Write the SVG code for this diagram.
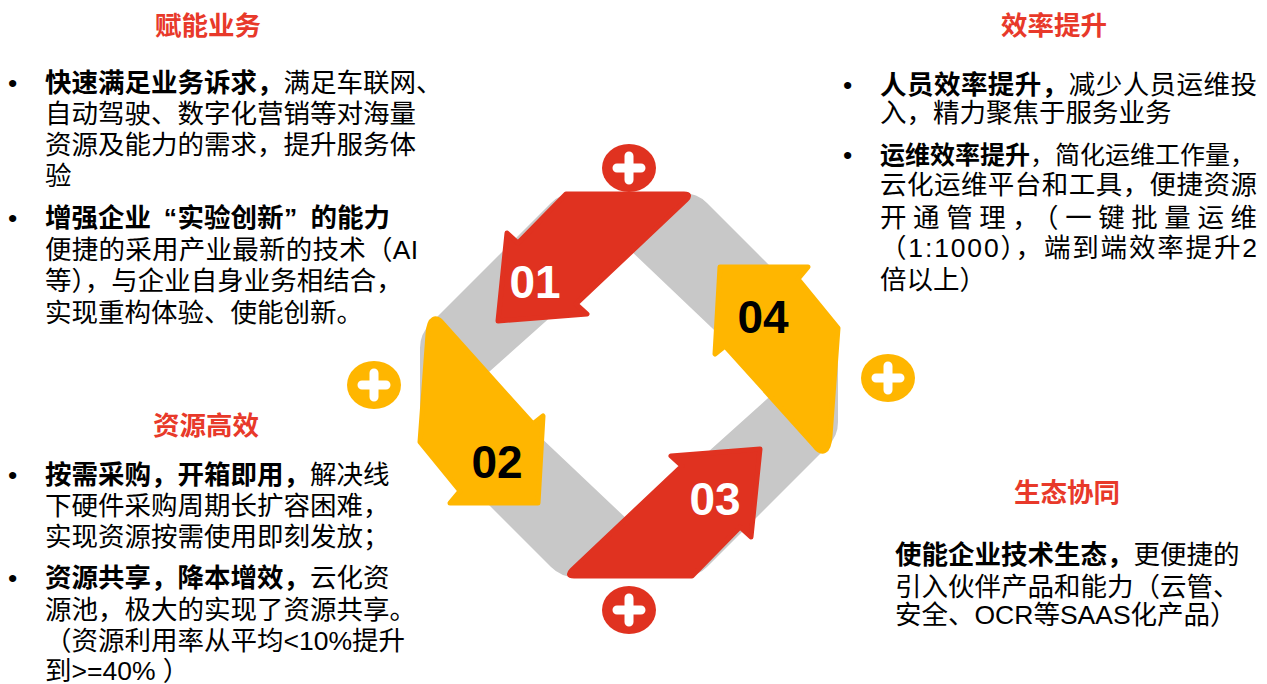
<svg xmlns="http://www.w3.org/2000/svg" width="1267" height="684" viewBox="0 0 1267 684">
<style>
text{font-family:"Liberation Sans","Noto Sans CJK SC",sans-serif;font-size:26.5px;fill:#000}
.t{fill:#E8392A;font-weight:bold;text-anchor:middle}
.b{font-weight:bold}
.num{font-size:46px;font-weight:bold;text-anchor:middle}
.w{fill:#fff}
.ar{fill:#E03220;stroke:#E03220;stroke-width:5;stroke-linejoin:round}
.ay{fill:#FFB600;stroke:#FFB600;stroke-width:5;stroke-linejoin:round}
.band{fill:#C8C8C8;fill-rule:evenodd}
.pr{fill:#E03220}
.py{fill:#FFB600}
.cross{stroke:#fff;stroke-width:9;stroke-linecap:round;fill:none}
</style>
<rect width="1267" height="684" fill="#fff"/>

<g id="ring">
<path class="band" d="M571,193 L683,193 Q697,193 707,203 L828,324 Q838,334 838,348 L838,422 Q838,436 828,446 L707,567 Q697,577 683,577 L575,577 Q561,577 551,567 L430,446 Q420,436 420,422 L420,348 Q420,334 430,324 L551,203 Q561,193 575,193 Z M628,248 L480,380 L630,522 L777,390 Z"/>
</g>

<g id="connectors">
<g id="arrow-01">
<path class="ar" d="M566,194 L684,194 Q692,194 686,200 L576,304 L587,314 L498,321 L507,233 L518,243 Z"/>
<text class="num w" x="535" y="298">01</text>
</g>
<g id="arrow-02">
<path class="ay" d="M428,334 C429,318 436,314 444,325 L533,424 L543,416 L538,503 L450,503 L460,491 L420,442 Z"/>
<text class="num" x="497" y="478">02</text>
</g>
<g id="arrow-03">
<path class="ar" d="M692,576 L574,576 Q566,576 572,570 L682,466 L671,456 L760,449 L751,537 L740,527 Z"/>
<text class="num w" x="715" y="515">03</text>
</g>
<g id="arrow-04">
<path class="ay" d="M830,436 C829,452 822,456 814,445 L725,346 L715,354 L720,267 L808,267 L798,279 L838,328 Z"/>
<text class="num" x="763" y="333">04</text>
</g>
</g>

<g id="plus-top">
<ellipse class="pr" cx="629" cy="168" rx="27" ry="24"/>
<path class="cross" d="M617,168 H641 M629,156 V180"/>
</g>
<g id="plus-bottom">
<ellipse class="pr" cx="629" cy="610" rx="27" ry="24"/>
<path class="cross" d="M617,610 H641 M629,598 V622"/>
</g>
<g id="plus-left">
<ellipse class="py" cx="374" cy="385" rx="27" ry="24"/>
<path class="cross" d="M362,385 H386 M374,373 V397"/>
</g>
<g id="plus-right">
<ellipse class="py" cx="888" cy="378" rx="27" ry="24"/>
<path class="cross" d="M876,378 H900 M888,366 V390"/>
</g>

<g id="block-enable">
<text class="t" x="208" y="35">赋能业务</text>
<text x="8" y="92">•</text>
<text x="45" y="92"><tspan class="b">快速满足业务诉求，</tspan>满足车联网、</text>
<text x="45" y="123">自动驾驶、数字化营销等对海量</text>
<text x="45" y="154">资源及能力的需求，提升服务体</text>
<text x="45" y="185">验</text>
<text x="8" y="227">•</text>
<text class="b" y="227"><tspan x="45">增强企业</tspan><tspan x="177" text-anchor="end">“</tspan><tspan x="177.5">实验创新</tspan><tspan x="284">”</tspan><tspan x="310.5">的能力</tspan></text>
<text x="45" y="259" textLength="373" lengthAdjust="spacing">便捷的采用产业最新的技术（AI</text>
<text x="45" y="290">等），与企业自身业务相结合，</text>
<text x="45" y="322">实现重构体验、使能创新。</text>
</g>

<g id="block-resource">
<text class="t" x="206" y="435">资源高效</text>
<text x="8" y="484">•</text>
<text x="45" y="484"><tspan class="b">按需采购，开箱即用，</tspan>解决线</text>
<text x="45" y="515">下硬件采购周期长扩容困难，</text>
<text x="45" y="546">实现资源按需使用即刻发放；</text>
<text x="8" y="587">•</text>
<text x="45" y="587"><tspan class="b">资源共享，降本增效，</tspan>云化资</text>
<text x="45" y="619">源池，极大的实现了资源共享。</text>
<text x="45" y="650">（资源利用率从平均&lt;10%提升</text>
<text x="45" y="680">到&gt;=40% ）</text>
</g>

<g id="block-efficiency">
<text class="t" x="1054" y="35">效率提升</text>
<text x="843" y="94">•</text>
<text x="880" y="94" textLength="377" lengthAdjust="spacing"><tspan class="b">人员效率提升，</tspan>减少人员运维投</text>
<text x="880" y="122">入，精力聚焦于服务业务</text>
<text x="843" y="164">•</text>
<text x="880" y="164" style="font-size:25px"><tspan class="b">运维效率提升</tspan>，简化运维工作量，</text>
<text x="880" y="194" textLength="377" lengthAdjust="spacing">云化运维平台和工具，便捷资源</text>
<text x="880" y="227" textLength="377" lengthAdjust="spacing">开通管理，（一键批量运维</text>
<text x="880" y="257" textLength="377" lengthAdjust="spacing">（1:1000），端到端效率提升2</text>
<text x="880" y="289">倍以上）</text>
</g>

<g id="block-ecosystem">
<text class="t" x="1067" y="502">生态协同</text>
<text x="895" y="564"><tspan class="b">使能企业技术生态，</tspan>更便捷的</text>
<text x="895" y="596">引入伙伴产品和能力（云管、</text>
<text x="895" y="624">安全、OCR等SAAS化产品）</text>
</g>
</svg>
